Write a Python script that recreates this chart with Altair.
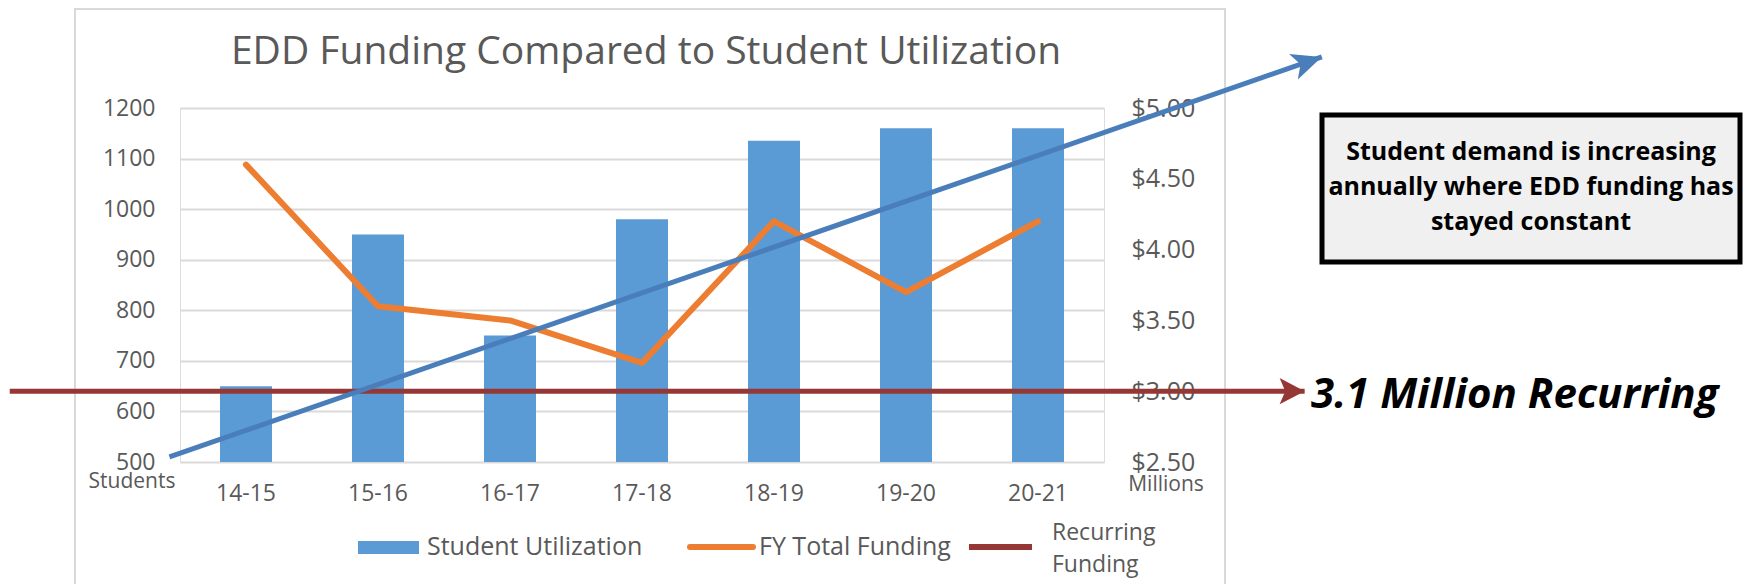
import altair as alt
import pandas as pd

# ---- data ----
categories = ["14-15", "15-16", "16-17", "17-18", "18-19", "19-20", "20-21"]
students = [650, 950, 750, 980, 1135, 1160, 1160]
funding = [4.6, 3.6, 3.5, 3.2, 4.2, 3.7, 4.2]

# trend arrow (x in category-index units, y in students)
trend_pos = [-0.58, 8.15]
trend_students = [510, 1301]
# recurring funding arrow (x in category-index units, y in $ millions)
recurring_pos = [-1.79, 8.02]
recurring_funding = [3.0, 3.0]

student_ticks = [500, 600, 700, 800, 900, 1000, 1100, 1200]
money_ticks = [2.5, 3.0, 3.5, 4.0, 4.5, 5.0]

FONT = "Open Sans"
GRAY = "#595959"
BLUE_BAR = "#5B9BD5"
ORANGE = "#ED7D31"
RED = "#953735"
BLUE_ARROW = "#4A7EBB"

df = pd.DataFrame({"cat": categories, "students": students, "funding": funding})
trend = pd.DataFrame({"pos": trend_pos, "students": trend_students})
recur = pd.DataFrame({"pos": recurring_pos, "funding": recurring_funding})
one = pd.DataFrame({"k": [0]})

band_scale = alt.Scale(domain=categories, paddingInner=0.606, paddingOuter=0.303)
stud_scale = alt.Scale(domain=[500, 1200], nice=False, zero=False)
money_scale = alt.Scale(domain=[2.5, 5.0], nice=False, zero=False)
pos_scale = alt.Scale(domain=[-0.5, 6.5], nice=False, zero=False)

bars = alt.Chart(df).mark_bar(color=BLUE_BAR).encode(
    x=alt.X("cat:N", sort=categories, scale=band_scale, title=None,
            axis=alt.Axis(labelFont=FONT, labelFontSize=23, labelColor=GRAY,
                          labelAngle=0, ticks=False, domain=False,
                          labelBaseline="middle", labelPadding=31)),
    y=alt.Y("students:Q", scale=stud_scale, title=None,
            axis=alt.Axis(values=student_ticks, format="d", labelFont=FONT,
                          labelFontSize=23, labelColor=GRAY, ticks=False,
                          domain=False, gridColor="#D9D9D9", gridWidth=2,
                          labelPadding=25)),
    y2=alt.datum(500),
)

orange = alt.Chart(df).mark_line(color=ORANGE, strokeWidth=6, strokeJoin="round",
                                  strokeCap="round").encode(
    x=alt.X("cat:N", sort=categories, scale=band_scale, axis=None),
    y=alt.Y("funding:Q", scale=money_scale, title=None,
            axis=alt.Axis(orient="right", values=money_ticks, format="$.2f",
                          labelFont=FONT, labelFontSize=25, labelColor=GRAY,
                          ticks=False, domain=False, grid=False, labelPadding=27)),
)

red_line = alt.Chart(recur).mark_line(color=RED, strokeWidth=5).encode(
    x=alt.X("pos:Q", scale=pos_scale, axis=None),
    y=alt.Y("funding:Q", scale=money_scale, axis=None),
)
red_head = alt.Chart(recur.tail(1)).mark_point(
    shape="M0,0 L-2,-1.05 L-1.55,0 L-2,1.05 Z", filled=True, size=625,
    color=RED, opacity=1, angle=0).encode(
    x=alt.X("pos:Q", scale=pos_scale, axis=None),
    y=alt.Y("funding:Q", scale=money_scale, axis=None),
)

blue_line = alt.Chart(trend).mark_line(color=BLUE_ARROW, strokeWidth=5).encode(
    x=alt.X("pos:Q", scale=pos_scale, axis=None),
    y=alt.Y("students:Q", scale=stud_scale, axis=None),
)
blue_head = alt.Chart(trend.tail(1)).mark_point(
    shape="M0,0 L-2,-0.9 L-1.5,0 L-2,0.9 Z", filled=True, size=900,
    color=BLUE_ARROW, opacity=1, angle=341).encode(
    x=alt.X("pos:Q", scale=pos_scale, axis=None),
    y=alt.Y("students:Q", scale=stud_scale, axis=None),
)

# ---- decorations (pixel positions relative to the plot origin) ----
border = alt.Chart(one).mark_rect(fill=None, stroke="#D9D9D9", strokeWidth=2).encode(
    x=alt.value(-105), x2=alt.value(1045), y=alt.value(-99), y2=alt.value(520))

title = alt.Chart(one).mark_text(font=FONT, fontSize=39, color=GRAY,
                                 align="center", baseline="middle").encode(
    x=alt.value(466), y=alt.value(-56),
    text=alt.value("EDD Funding Compared to Student Utilization"))

students_lbl = alt.Chart(one).mark_text(font=FONT, fontSize=21, color=GRAY,
                                        align="center", baseline="middle").encode(
    x=alt.value(-48), y=alt.value(374), text=alt.value("Students"))
millions_lbl = alt.Chart(one).mark_text(font=FONT, fontSize=21, color=GRAY,
                                        align="center", baseline="middle").encode(
    x=alt.value(986), y=alt.value(377), text=alt.value("Millions"))

# legend
leg_rect = alt.Chart(one).mark_rect(color=BLUE_BAR).encode(
    x=alt.value(178), x2=alt.value(239), y=alt.value(433), y2=alt.value(446))
leg_t1 = alt.Chart(one).mark_text(font=FONT, fontSize=25, color=GRAY,
                                  align="left", baseline="middle").encode(
    x=alt.value(247), y=alt.value(439), text=alt.value("Student Utilization"))
leg_orange = alt.Chart(one).mark_rule(color=ORANGE, strokeWidth=6, strokeCap="round").encode(
    x=alt.value(510), x2=alt.value(573), y=alt.value(439))
leg_t2 = alt.Chart(one).mark_text(font=FONT, fontSize=25, color=GRAY,
                                  align="left", baseline="middle").encode(
    x=alt.value(579), y=alt.value(439), text=alt.value("FY Total Funding"))
leg_red = alt.Chart(one).mark_rule(color=RED, strokeWidth=6).encode(
    x=alt.value(789), x2=alt.value(852), y=alt.value(439))
leg_t3 = alt.Chart(one).mark_text(font=FONT, fontSize=23, color=GRAY,
                                  align="left", baseline="middle", lineHeight=32).encode(
    x=alt.value(872), y=alt.value(425), text=alt.value(["Recurring", "Funding"]))

# callout box
box = alt.Chart(one).mark_rect(fill="#F0F0F0", stroke="black", strokeWidth=5).encode(
    x=alt.value(1142), x2=alt.value(1560), y=alt.value(7), y2=alt.value(154))
box_text = alt.Chart(one).mark_text(font=FONT, fontSize=25, fontWeight="bold",
                                    color="black", align="center", baseline="middle",
                                    lineHeight=35).encode(
    x=alt.value(1351), y=alt.value(44),
    text=alt.value(["Student demand is increasing",
                    "annually where EDD funding has",
                    "stayed constant"]))

recurring_text = alt.Chart(one).mark_text(font=FONT, fontSize=42, fontWeight="bold",
                                          fontStyle="italic", color="black",
                                          align="left", baseline="alphabetic").encode(
    x=alt.value(1131), y=alt.value(300), text=alt.value("3.1 Million Recurring"))

chart = alt.layer(
    border, bars, orange, red_line, red_head, blue_line, blue_head,
    title, students_lbl, millions_lbl,
    leg_rect, leg_t1, leg_orange, leg_t2, leg_red, leg_t3,
    box, box_text, recurring_text,
).resolve_scale(x="independent", y="independent").properties(
    width=924, height=354,
    autosize=alt.AutoSizeParams(type="none"),
    padding={"left": 180, "top": 108, "right": 640, "bottom": 122},
).configure_view(stroke=None).configure(background="white")

chart.save("out.html", embed_options={"renderer": "svg", "actions": False})
